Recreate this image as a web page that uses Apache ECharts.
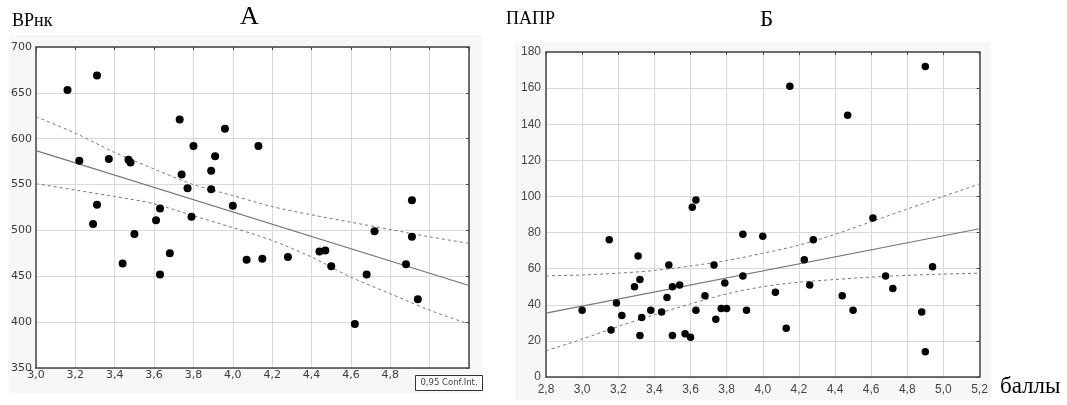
<!DOCTYPE html>
<html>
<head>
<meta charset="utf-8">
<script src="https://cdn.jsdelivr.net/npm/echarts@6/dist/echarts.min.js"></script>
<style>
  html, body { margin: 0; padding: 0; background: #fff; }
  #chart { width: 1067px; height: 405px; }
</style>
</head>
<body>
<div id="chart"></div>
<script>
// panel A (ВРнк)
const aX = [3.16, 3.31, 3.22, 3.37, 3.47, 3.48, 3.73, 3.80, 3.96, 4.13, 3.91, 3.74, 3.89, 3.77, 3.89,
  3.31, 3.29, 3.50, 3.44, 3.63, 3.61, 3.79, 3.68, 3.63, 4.00, 4.07, 4.15, 4.28, 4.44, 4.47, 4.50,
  4.72, 4.91, 4.91, 4.88, 4.68, 4.94, 4.62];
const aY = [653, 669, 576, 578, 577, 574, 621, 592, 611, 592, 581, 561, 565, 546, 545,
  528, 507, 496, 464, 524, 511, 515, 475, 452, 527, 468, 469, 471, 477, 478, 461,
  499, 533, 493, 463, 452, 425, 398];
const aCiX = [3.0, 3.2, 3.4, 3.6, 3.8, 4.0, 4.2, 4.4, 4.6, 4.8, 5.0, 5.2];
const aUpper = [624, 606, 585, 567, 550, 538, 526, 517, 509, 501, 493, 486];
const aLower = [551, 544, 537, 529, 516, 503, 489, 471, 449, 431, 413, 398];
const aFitX = [3.0, 5.2];
const aFitY = [587, 440];
const aTicksX = [3.0, 3.2, 3.4, 3.6, 3.8, 4.0, 4.2, 4.4, 4.6, 4.8, 5.0, 5.2];
const aTicksY = [350, 400, 450, 500, 550, 600, 650, 700];

// panel B (ПАПР)
const bX = [3.00, 3.15, 3.16, 3.19, 3.22, 3.29, 3.31, 3.32, 3.32, 3.33, 3.38, 3.44, 3.47, 3.48, 3.50,
  3.50, 3.54, 3.57, 3.60, 3.61, 3.63, 3.63, 3.68, 3.73, 3.74, 3.77, 3.79, 3.80, 3.89, 3.89,
  3.91, 4.00, 4.07, 4.13, 4.23, 4.28, 4.26, 4.44, 4.50, 4.61, 4.68, 4.72, 4.88, 4.90, 4.94,
  4.15, 4.47, 4.90];
const bY = [37, 76, 26, 41, 34, 50, 67, 54, 23, 33, 37, 36, 44, 62, 50,
  23, 51, 24, 22, 94, 98, 37, 45, 62, 32, 38, 52, 38, 79, 56,
  37, 78, 47, 27, 65, 76, 51, 45, 37, 88, 56, 49, 36, 14, 61,
  161, 145, 172];
const bCiX = [2.8, 3.0, 3.2, 3.4, 3.6, 3.8, 4.0, 4.2, 4.4, 4.6, 4.8, 5.0, 5.2];
const bUpper = [56, 56.5, 57.5, 59, 61.5, 64.5, 68.5, 73, 79, 86, 93, 100, 107];
const bLower = [14.5, 21, 28, 34.5, 40.5, 46, 50, 52.5, 54, 55.3, 56.3, 57, 57.5];
const bFitX = [2.8, 5.2];
const bFitY = [35.4, 82.1];
const bTicksX = [2.8, 3.0, 3.2, 3.4, 3.6, 3.8, 4.0, 4.2, 4.4, 4.6, 4.8, 5.0, 5.2];
const bTicksY = [0, 20, 40, 60, 80, 100, 120, 140, 160, 180];

const zip = (xs, ys) => xs.map((x, i) => [x, ys[i]]);
const comma = (v) => v.toFixed(1).replace(".", ",");

const chart = echarts.init(document.getElementById("chart"));

const gridLine = { show: true, lineStyle: { color: "#d9d9d9", width: 1 } };

function mainX(grid, ticks, labelOpt, hideAbove) {
  return {
    type: "value", gridIndex: grid,
    min: ticks[0], max: ticks[ticks.length - 1], interval: 0.2,
    axisLine: { show: true, onZero: false, lineStyle: { color: "#444", width: 1.5 } },
    axisTick: { show: false },
    splitLine: gridLine,
    axisLabel: Object.assign({
      showMinLabel: true, showMaxLabel: true,
      formatter: (v) => (hideAbove && v > hideAbove ? "" : comma(v)),
    }, labelOpt),
  };
}
function mainY(grid, ticks, labelOpt) {
  return {
    type: "value", gridIndex: grid,
    min: ticks[0], max: ticks[ticks.length - 1], interval: ticks[1] - ticks[0],
    axisLine: { show: true, onZero: false, lineStyle: { color: "#444", width: 1.5 } },
    axisTick: { show: false },
    splitLine: gridLine,
    axisLabel: Object.assign({ showMinLabel: true, showMaxLabel: true }, labelOpt),
  };
}
// frame axes on top / right with small inside ticks
function frameX(grid, ticks) {
  return {
    type: "value", gridIndex: grid, position: "top",
    min: ticks[0], max: ticks[ticks.length - 1], interval: 0.2,
    axisLine: { show: true, onZero: false, lineStyle: { color: "#444", width: 1.5 } },
    axisTick: { show: true, inside: true, length: 3, lineStyle: { color: "#444" } },
    axisLabel: { show: false }, splitLine: { show: false },
  };
}
function frameY(grid, ticks) {
  return {
    type: "value", gridIndex: grid, position: "right",
    min: ticks[0], max: ticks[ticks.length - 1], interval: ticks[1] - ticks[0],
    axisLine: { show: true, onZero: false, lineStyle: { color: "#444", width: 1.5 } },
    axisTick: { show: true, inside: true, length: 3, lineStyle: { color: "#444" } },
    axisLabel: { show: false }, splitLine: { show: false },
  };
}

const labA = { fontFamily: "DejaVu Sans", fontSize: 11, color: "#3a3a3a" };
const labB = { fontFamily: "Liberation Sans", fontSize: 12, color: "#444" };

const dashStyle = { color: "#777", width: 1, type: [3, 3] };
const fitStyle = { color: "#777", width: 1.2 };
const dot = { color: "#000", opacity: 1 };

const option = {
  animation: false,
  grid: [
    { left: 36, top: 47, width: 433, height: 321, show: true, backgroundColor: "#fff", borderWidth: 0 },
    { left: 546, top: 52, width: 433.5, height: 325, show: true, backgroundColor: "#fff", borderWidth: 0 },
  ],
  xAxis: [
    mainX(0, aTicksX, Object.assign({ margin: 2 }, labA), 4.9),
    mainX(1, bTicksX, Object.assign({ margin: 7 }, labB)),
    frameX(0, aTicksX),
    frameX(1, bTicksX),
  ],
  yAxis: [
    mainY(0, aTicksY, Object.assign({ margin: 4 }, labA)),
    mainY(1, bTicksY, Object.assign({ margin: 5 }, labB)),
    frameY(0, aTicksY),
    frameY(1, bTicksY),
  ],
  series: [
    { type: "line", xAxisIndex: 0, yAxisIndex: 0, data: zip(aFitX, aFitY), symbol: "none", lineStyle: fitStyle, z: 3 },
    { type: "line", xAxisIndex: 0, yAxisIndex: 0, data: zip(aCiX, aUpper), symbol: "none", smooth: 0.3, lineStyle: dashStyle, z: 3 },
    { type: "line", xAxisIndex: 0, yAxisIndex: 0, data: zip(aCiX, aLower), symbol: "none", smooth: 0.3, lineStyle: dashStyle, z: 3 },
    { type: "scatter", xAxisIndex: 0, yAxisIndex: 0, data: zip(aX, aY), symbol: "circle", symbolSize: 8, itemStyle: dot, z: 4 },

    { type: "line", xAxisIndex: 1, yAxisIndex: 1, data: zip(bFitX, bFitY), symbol: "none", lineStyle: fitStyle, z: 3 },
    { type: "line", xAxisIndex: 1, yAxisIndex: 1, data: zip(bCiX, bUpper), symbol: "none", smooth: 0.3, lineStyle: dashStyle, z: 3 },
    { type: "line", xAxisIndex: 1, yAxisIndex: 1, data: zip(bCiX, bLower), symbol: "none", smooth: 0.3, lineStyle: dashStyle, z: 3 },
    { type: "scatter", xAxisIndex: 1, yAxisIndex: 1, data: zip(bX, bY), symbol: "circle", symbolSize: 7.5, itemStyle: dot, z: 4 },
  ],
  graphic: [
    // light panels behind the plots
    { type: "rect", left: 9, top: 35, shape: { width: 473, height: 358 }, style: { fill: "#f7f7f7" }, z: -100, silent: true },
    { type: "rect", left: 515, top: 42, shape: { width: 476, height: 358 }, style: { fill: "#f7f7f7" }, z: -100, silent: true },
    // titles
    { type: "text", left: 12, top: 12, style: { text: "ВРнк", font: '18px "Liberation Serif"', fill: "#000" } },
    { type: "text", left: 240, top: 4, style: { text: "А", font: '26px "Liberation Serif"', fill: "#000" } },
    { type: "text", left: 506, top: 10, style: { text: "ПАПР", font: '18px "Liberation Serif"', fill: "#000" } },
    { type: "text", left: 760, top: 8, style: { text: "Б", font: '23px "Liberation Serif"', fill: "#000" } },
    { type: "text", left: 1000, top: 375, style: { text: "баллы", font: '23px "Liberation Serif"', fill: "#000" } },
    // legend box
    {
      type: "group", left: 415, top: 375, z: 50,
      children: [
        { type: "rect", shape: { x: 0, y: 0, width: 67, height: 15 }, style: { fill: "#fff", stroke: "#333", lineWidth: 1 } },
        { type: "text", x: 33.5, y: 7.5, style: { text: "0,95 Conf.Int.", font: '8.5px "DejaVu Sans"', fill: "#444", align: "center", verticalAlign: "middle" } },
      ],
    },
  ],
};

chart.setOption(option);
</script>
</body>
</html>
